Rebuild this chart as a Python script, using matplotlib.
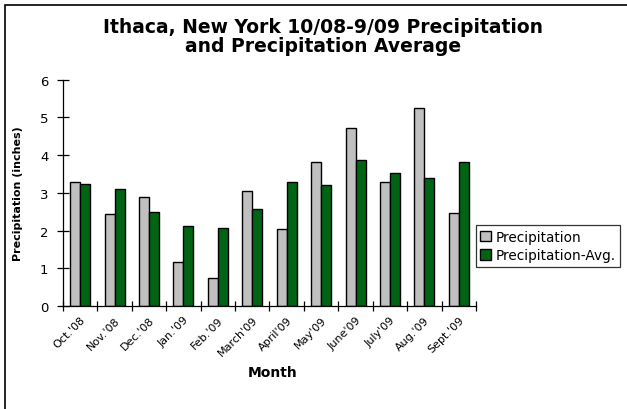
import numpy as np
import matplotlib
matplotlib.use('Agg')
from matplotlib import pyplot as plt
from matplotlib.patches import Rectangle
from matplotlib import transforms

plt.rcParams['font.family'] = ['DejaVu Sans']

# data
months = ["Oct.'08", "Nov.'08", "Dec.'08", "Jan.'09", "Feb.'09", "March'09",
          "April'09", "May'09", "June'09", "July'09", "Aug.'09", "Sept.'09"]
precip = [3.30, 2.43, 2.88, 1.16, 0.75, 3.05, 2.04, 3.83, 4.73, 3.29, 5.25, 2.47]
precip_avg = [3.23, 3.10, 2.49, 2.13, 2.06, 2.56, 3.30, 3.22, 3.88, 3.53, 3.40, 3.83]

fig = plt.figure(figsize=(6.27, 4.10), dpi=100)
ax = fig.add_axes([63/627, 1-307/410, 413/627, (307-80.7)/410])

x = np.arange(len(months))
w = 0.29
ax.bar(x - w/2, precip, w, color='#c0c0c0', edgecolor='black', linewidth=1.0,
       label='Precipitation')
ax.bar(x + w/2, precip_avg, w, color='#006414', edgecolor='black', linewidth=1.0,
       label='Precipitation-Avg.')

ax.set_xlim(-0.5, len(months) - 0.5)
ax.set_ylim(0, 6)
ax.set_yticks(range(0, 7))
ax.set_xticks(np.arange(len(months) + 1) - 0.5)
ax.set_xticklabels([])
ax.set_xticks(x, minor=True)
ax.set_xticklabels(months, minor=True, rotation=45, ha='right', va='top',
                   rotation_mode='anchor', fontsize=8)
# shift month labels a little to the left like the original
shift = transforms.ScaledTranslation(-8/72, 0, fig.dpi_scale_trans)
for lab in ax.get_xticklabels(minor=True):
    lab.set_transform(lab.get_transform() + shift)
ax.tick_params(axis='x', which='minor', length=0, pad=6)
ax.tick_params(axis='x', which='major', direction='inout', length=7, width=0.9)
ax.tick_params(axis='y', direction='inout', length=9, width=0.9, labelsize=9.5, pad=6)
ax.spines['top'].set_visible(False)
ax.spines['right'].set_visible(False)
for s in ['left', 'bottom']:
    ax.spines[s].set_linewidth(0.9)

ax.set_ylabel('Precipitation (inches)', fontsize=8, fontweight='bold')
ax.yaxis.set_label_coords(-0.097, 0.5)
fig.text(273/627, 1-373/410, 'Month', ha='center', va='center',
         fontsize=10, fontweight='bold')

fig.text(323/627, 1-37/410,
         'Ithaca, New York 10/08-9/09 Precipitation\nand Precipitation Average',
         ha='center', va='center', fontsize=13.5, fontweight='bold', linespacing=1.0)

leg = ax.legend(loc='center left', bbox_to_anchor=(475.5/627, 1-247/410),
                bbox_transform=fig.transFigure, fontsize=9.8, frameon=True,
                fancybox=False, edgecolor='black', borderpad=0.35,
                handlelength=0.8, handleheight=0.8, handletextpad=0.3,
                labelspacing=0.3, borderaxespad=0)
leg.get_frame().set_linewidth(0.9)

# outer chart border (left and top visible)
fig.patches.append(Rectangle((5/627, -0.1), 1.1, (1-6/410) + 0.1,
                             transform=fig.transFigure, fill=False,
                             edgecolor='black', linewidth=1.2))

fig.savefig('out.png', dpi=100)
